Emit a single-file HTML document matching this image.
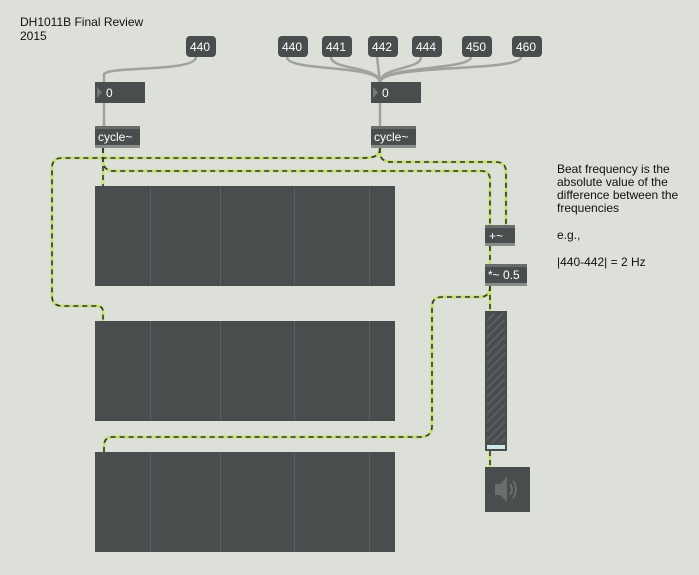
<!DOCTYPE html>
<html><head><meta charset="utf-8"><style>
body{margin:0;width:699px;height:575px;background:#dddfd9;overflow:hidden;font-family:"Liberation Sans",Arial,sans-serif}
svg{position:absolute;left:0;top:0}
</style></head><body>
<svg width="699" height="575" viewBox="0 0 699 575" font-family="Liberation Sans, Arial, sans-serif">
<defs>
<pattern id="hatch" width="6" height="6" patternUnits="userSpaceOnUse" patternTransform="rotate(45)">
<rect width="6" height="6" fill="#4a4d4d"/><rect width="2" height="6" fill="#5c5f5f"/>
</pattern>
</defs>
<text x="20" y="26" font-size="12" fill="#111">DH1011B Final Review</text>
<text x="20" y="40" font-size="12" fill="#111">2015</text>
<text font-size="12" fill="#111">
<tspan x="557" y="173">Beat frequency is the</tspan>
<tspan x="557" y="186">absolute value of the</tspan>
<tspan x="557" y="199">difference between the</tspan>
<tspan x="557" y="212">frequencies</tspan>
<tspan x="557" y="239">e.g.,</tspan>
<tspan x="557" y="266">|440-442| = 2 Hz</tspan>
</text>
<!-- grey cables -->
<g fill="none" stroke="#a0a2a0" stroke-width="2.5">
<path d="M196,57 C196,72 110,66 104,74 L104,82"/>
<path d="M287,57 C287,72 378,64 380,82"/>
<path d="M331,57 C331,70 378,66 380,82"/>
<path d="M377,57 L380,82"/>
<path d="M421,57 C421,70 382,66 380,82"/>
<path d="M471,57 C471,70 382,66 380,82"/>
<path d="M521,57 C521,72 382,64 380,82"/>
<path d="M104,103 L104,126"/>
<path d="M380,103 L380,126"/>
</g>
<!-- signal cables -->
<g fill="none" stroke-width="3">
<g stroke="#c8e07a">
<path d="M103,148 L103,186"/>
<path d="M380,148 C380,158 370,158 360,158 L62,158 Q52,158 52,168 L52,296 Q52,306 62,306 L97,306 Q103,306 103,312 L103,321"/>
<path d="M103,148 L103,162 Q104,171 114,171 L482,171 Q490,171 490,180 L490,225"/>
<path d="M380,148 L380,155 Q382,162 392,162 L496,162 Q506,162 506,172 L506,225"/>
<path d="M490,246 L490,264"/>
<path d="M490,286 L490,311"/>
<path d="M490,286 Q490,297 480,297 L442,297 Q432,297 432,307 L432,426 Q432,437 420,437 L113,437 Q104,437 104,446 L104,452"/>
<path d="M490,451 L490,467"/>
</g>
<g stroke="#333" stroke-dasharray="5,4" stroke-width="1.6">
<path d="M103,148 L103,186"/>
<path d="M380,148 C380,158 370,158 360,158 L62,158 Q52,158 52,168 L52,296 Q52,306 62,306 L97,306 Q103,306 103,312 L103,321"/>
<path d="M103,148 L103,162 Q104,171 114,171 L482,171 Q490,171 490,180 L490,225"/>
<path d="M380,148 L380,155 Q382,162 392,162 L496,162 Q506,162 506,172 L506,225"/>
<path d="M490,246 L490,264"/>
<path d="M490,286 L490,311"/>
<path d="M490,286 Q490,297 480,297 L442,297 Q432,297 432,307 L432,426 Q432,437 420,437 L113,437 Q104,437 104,446 L104,452"/>
<path d="M490,451 L490,467"/>
</g>
</g>
<!-- message boxes -->
<g font-size="12" fill="#fff">
<rect x="186" y="36" width="30" height="21" rx="4" fill="#4a4d4d"/><text x="190" y="51">440</text>
<rect x="278" y="36" width="30" height="21" rx="4" fill="#4a4d4d"/><text x="282" y="51">440</text>
<rect x="322" y="36" width="30" height="21" rx="4" fill="#4a4d4d"/><text x="326" y="51">441</text>
<rect x="368" y="36" width="30" height="21" rx="4" fill="#4a4d4d"/><text x="372" y="51">442</text>
<rect x="412" y="36" width="30" height="21" rx="4" fill="#4a4d4d"/><text x="416" y="51">444</text>
<rect x="462" y="36" width="30" height="21" rx="4" fill="#4a4d4d"/><text x="466" y="51">450</text>
<rect x="512" y="36" width="30" height="21" rx="4" fill="#4a4d4d"/><text x="516" y="51">460</text>
</g>
<!-- number boxes -->
<g font-size="12" fill="#fff">
<rect x="95" y="82" width="50" height="21" fill="#4a4d4d"/><path d="M97,87 L102,92.5 L97,98Z" fill="#777"/><text x="106" y="97">0</text>
<rect x="371" y="82" width="50" height="21" fill="#4a4d4d"/><path d="M373,87 L378,92.5 L373,98Z" fill="#777"/><text x="382" y="97">0</text>
</g>
<!-- objects -->
<g font-size="12" fill="#fff">
<rect x="95" y="126" width="45" height="22" fill="#4a4d4d"/><rect x="95" y="145" width="45" height="3" fill="#8a8c8c"/><rect x="95" y="126" width="45" height="3" fill="#6a6c6c"/><text x="98" y="141">cycle~</text>
<rect x="371" y="126" width="45" height="22" fill="#4a4d4d"/><rect x="371" y="145" width="45" height="3" fill="#8a8c8c"/><rect x="371" y="126" width="45" height="3" fill="#6a6c6c"/><text x="374" y="141">cycle~</text>
<rect x="485" y="225" width="30" height="21" fill="#4a4d4d"/><rect x="485" y="243" width="30" height="3" fill="#8a8c8c"/><rect x="485" y="225" width="30" height="3" fill="#6a6c6c"/><text x="489" y="240">+~</text>
<rect x="485" y="264" width="42" height="22" fill="#4a4d4d"/><rect x="485" y="283" width="42" height="3" fill="#8a8c8c"/><rect x="485" y="264" width="42" height="3" fill="#6a6c6c"/><text x="488" y="279">*~ 0.5</text>
</g>
<!-- scopes -->
<g fill="#4a4d4d">
<rect x="95" y="186" width="300" height="100"/>
<rect x="95" y="321" width="300" height="100"/>
<rect x="95" y="452" width="300" height="100"/>
</g>
<g stroke="#5b5f61" stroke-width="1">
<path d="M150.5,186V286M220.5,186V286M294.5,186V286M369.5,186V286"/>
<path d="M150.5,321V421M220.5,321V421M294.5,321V421M369.5,321V421"/>
<path d="M150.5,452V552M220.5,452V552M294.5,452V552M369.5,452V552"/>
</g>
<!-- slider -->
<rect x="485" y="311" width="22" height="140" fill="#4a4d4d"/>
<rect x="487" y="313" width="18" height="130" fill="url(#hatch)"/>
<rect x="487" y="445" width="18" height="4" fill="#cfe6ea"/>
<!-- speaker -->
<rect x="485" y="467" width="45" height="45" fill="#4a4d4d"/>
<path d="M495,484 L500,484 L507,477 L507,502 L500,495 L495,495Z" fill="#6a6d6d"/>
<path d="M510,484 Q514,489.5 510,495 M513,481 Q519,489.5 513,498" stroke="#6a6d6d" stroke-width="2" fill="none"/>
</svg>
</body></html>
